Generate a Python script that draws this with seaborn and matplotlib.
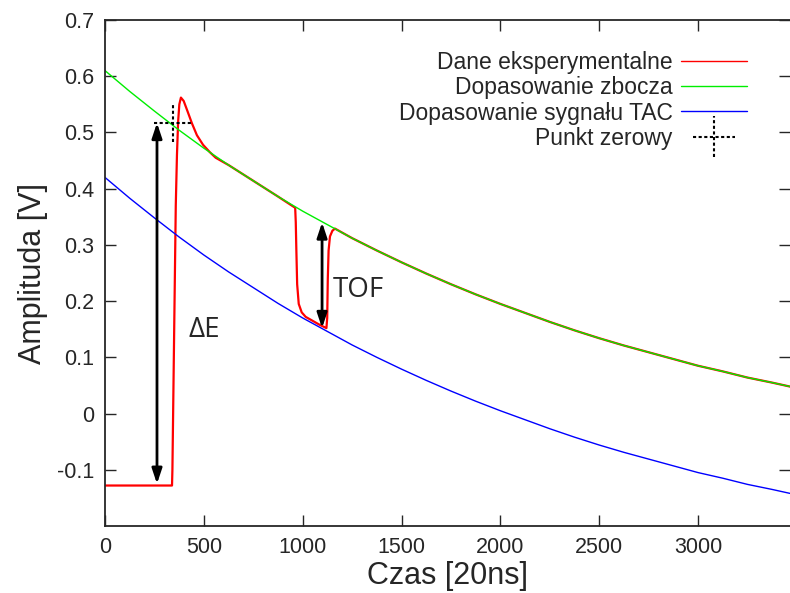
import numpy as np
import pandas as pd
import seaborn as sns
import matplotlib
matplotlib.use("Agg")
import matplotlib.pyplot as plt
from matplotlib.container import ErrorbarContainer
from matplotlib.legend_handler import HandlerErrorbar

# values
red_x = [0, 336, 339, 341, 350, 358, 364, 370, 376, 384, 398, 415, 440, 465, 496, 530, 560,
         625, 750, 875, 962, 965, 968, 972, 980, 995, 1015, 1050, 1085, 1120, 1124, 1127,
         1131, 1138, 1150, 1163, 1250, 1375, 1500, 1625, 1750, 1875, 2000, 2125, 2250,
         2375, 2500, 2625, 2750, 2875, 3000, 3125, 3250, 3375, 3465]
red_y = [-0.128, -0.128, -0.128, -0.10, 0.15, 0.37, 0.46, 0.52, 0.55, 0.562, 0.556, 0.54,
         0.516, 0.495, 0.478, 0.465, 0.455, 0.442, 0.414, 0.386, 0.366, 0.34, 0.29, 0.23,
         0.195, 0.18, 0.172, 0.165, 0.158, 0.152, 0.17, 0.24, 0.29, 0.315, 0.325, 0.329,
         0.312, 0.290, 0.269, 0.249, 0.230, 0.212, 0.195, 0.179, 0.163, 0.148, 0.134,
         0.121, 0.109, 0.097, 0.085, 0.075, 0.064, 0.055, 0.048]

fit_x = [0, 125, 250, 375, 500, 625, 750, 875, 1000, 1125, 1250, 1375, 1500, 1625, 1750,
         1875, 2000, 2125, 2250, 2375, 2500, 2625, 2750, 2875, 3000, 3125, 3250, 3375, 3465]
green_y = [0.610, 0.573, 0.538, 0.504, 0.472, 0.442, 0.414, 0.386, 0.360, 0.336, 0.312,
           0.290, 0.269, 0.249, 0.230, 0.212, 0.195, 0.179, 0.163, 0.148, 0.134, 0.121,
           0.109, 0.097, 0.085, 0.075, 0.064, 0.055, 0.048]
blue_y = [0.420, 0.383, 0.348, 0.314, 0.282, 0.252, 0.224, 0.196, 0.170, 0.146, 0.122,
          0.100, 0.079, 0.059, 0.040, 0.022, 0.005, -0.011, -0.027, -0.042, -0.056, -0.069,
          -0.081, -0.093, -0.105, -0.115, -0.126, -0.135, -0.142]

zero_x, zero_y = 344, 0.517
zero_xerr, zero_yerr = 96, 0.034

dE_x, dE_y0, dE_y1 = 263, -0.125, 0.517
tof_x, tof_y0, tof_y1 = 1098, 0.152, 0.340

labels = ["Dane eksperymentalne", "Dopasowanie zbocza",
          "Dopasowanie sygnału TAC", "Punkt zerowy"]

xticks = [0, 500, 1000, 1500, 2000, 2500, 3000]
yticks = [-0.1, 0, 0.1, 0.2, 0.3, 0.4, 0.5, 0.6, 0.7]

sns.set_style("ticks")
plt.rcParams["font.family"] = ["Liberation Sans", "DejaVu Sans"]

fig = plt.figure(figsize=(7.9, 5.93), dpi=100)
ax = fig.add_axes([105 / 790, 1 - 526 / 593, 685 / 790, 506 / 593])

sns.lineplot(x=red_x, y=red_y, color="#ff0000", lw=1.6, estimator=None, sort=False,
             ax=ax, label=labels[0])
sns.lineplot(x=fit_x, y=green_y, color="#00ee00", lw=1.0, estimator=None, sort=False,
             ax=ax, label=labels[1])
sns.lineplot(x=fit_x, y=blue_y, color="#0000ff", lw=1.0, estimator=None, sort=False,
             ax=ax, label=labels[2])

eb = ax.errorbar([zero_x], [zero_y], xerr=[zero_xerr], yerr=[zero_yerr], fmt="none",
                 ecolor="black", elinewidth=1.5, capsize=0, label=labels[3])
for c in eb[2]:
    c.set_linestyle((0, (1.5, 1.2)))

arrow = dict(arrowstyle="<|-|>,head_length=0.9,head_width=0.3", color="black", lw=2,
             shrinkA=0, shrinkB=0)
ax.annotate("", xy=(dE_x, dE_y0), xytext=(dE_x, dE_y1), arrowprops=arrow)
ax.annotate("", xy=(tof_x, tof_y0), xytext=(tof_x, tof_y1), arrowprops=arrow)
ax.text(420, 0.148, "ΔE", fontsize=20, family="Open Sans", va="center", ha="left")
ax.text(1150, 0.22, "TOF", fontsize=20, family="Open Sans", va="center", ha="left")

ax.set_xlim(0, 3465)
ax.set_ylim(-0.2, 0.7)
ax.set_xticks(xticks)
ax.set_yticks(yticks)
ax.set_yticklabels([f"{v:g}" for v in yticks])
ax.tick_params(direction="in", length=8, width=1, labelsize=15.5,
               top=True, right=True, pad=8)
ax.spines["right"].set_visible(False)
for s in ["left", "bottom", "top"]:
    ax.spines[s].set_linewidth(1.3)

ax.set_xlabel("Czas [20ns]", fontsize=22, labelpad=2)
ax.set_ylabel("Amplituda [V]", fontsize=22, labelpad=6)

handles, labs = ax.get_legend_handles_labels()
leg = ax.legend(handles, labs, loc="upper right", bbox_to_anchor=(0.951, 0.957),
                markerfirst=False, frameon=False, fontsize=16.5, handlelength=2.9,
                handletextpad=0.35, labelspacing=0.1, borderaxespad=0,
                handler_map={ErrorbarContainer: HandlerErrorbar(xerr_size=0.9)})
leg.get_lines()[0].set_linewidth(1.0)

fig.savefig("out.png", dpi=100)
